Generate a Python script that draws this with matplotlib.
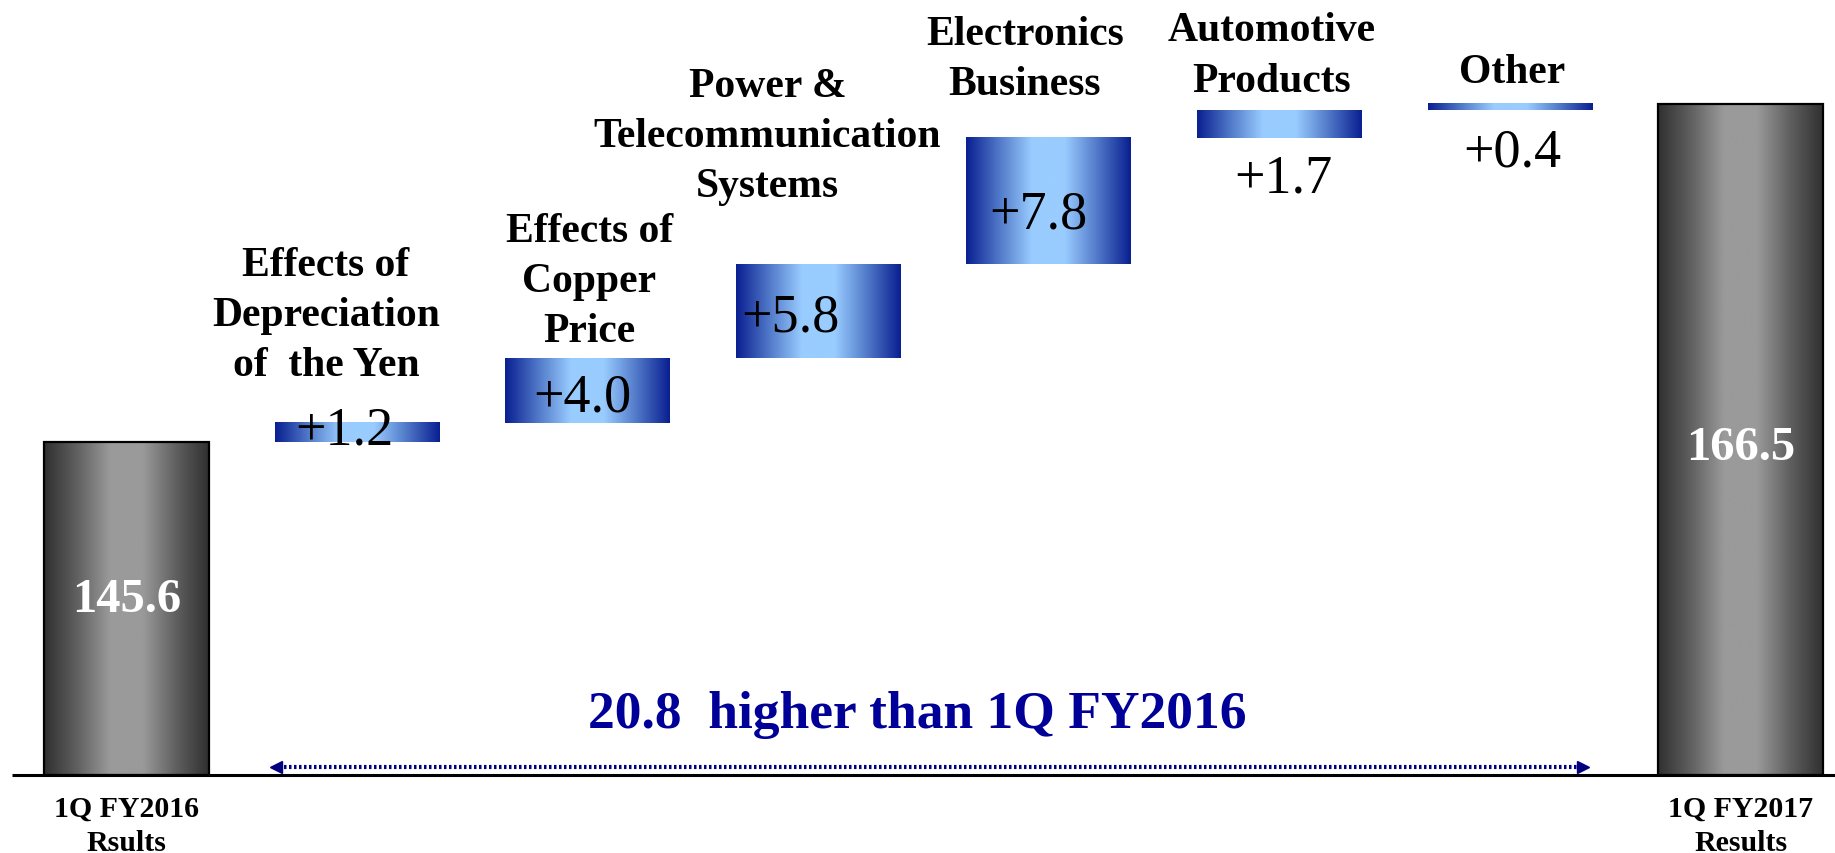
import numpy as np
from matplotlib import pyplot as plt
from matplotlib.colors import LinearSegmentedColormap

plt.rcParams['font.family'] = ['Liberation Serif', 'DejaVu Serif']

# data
start_label = '1Q FY2016\nRsults'
end_label = '1Q FY2017\nResults'
start_value = 145.6
end_value = 166.5
steps = ['Effects of\nDepreciation\nof  the Yen', 'Effects of\nCopper\nPrice',
         'Power &\nTelecommunication\nSystems', 'Electronics\nBusiness',
         'Automotive\nProducts', 'Other']
deltas = [1.2, 4.0, 5.8, 7.8, 1.7, 0.4]
diff_text = '20.8  higher than 1Q FY2016'

# layout (data coords)
step_label_pos = [(0.865, 153.45), (2.006, 155.55), (2.78, 164.52),
                  (3.896, 169.28), (4.967, 169.5), (6.01, 168.47)]
value_label_pos = [(0.943, 146.3), (1.975, 148.38), (2.877, 153.32),
                   (3.953, 159.69), (5.015, 161.92), (6.008, 163.53)]
width = 0.715
base = 125.0

blue = LinearSegmentedColormap.from_list('b', ['#0a1f91', '#5078c8', '#99ccff', '#99ccff', '#5078c8', '#0a1f91'])
gray = LinearSegmentedColormap.from_list('g', ['#303030', '#606060', '#9a9a9a', '#9a9a9a', '#606060', '#303030'])
grad = np.linspace(0, 1, 256).reshape(1, -1)

fig = plt.figure(figsize=(18.35, 8.54), dpi=100)
ax = fig.add_axes([0, 0, 1, 1])
ax.set_xlim(-0.549, 7.409)
ax.set_ylim(120.18, 172.99)
ax.axis('off')


def grad_bar(x, y0, y1, cmap, edge=None):
    ax.imshow(grad, cmap=cmap, extent=(x - width / 2, x + width / 2, y0, y1),
              aspect='auto', interpolation='bicubic', zorder=2)
    if edge:
        ax.add_patch(plt.Rectangle((x - width / 2, y0), width, y1 - y0, fill=False,
                                   edgecolor=edge, linewidth=1.6, zorder=3))


# totals
grad_bar(0, base, start_value, gray, 'black')
grad_bar(7, base, end_value, gray, 'black')
ax.text(0, 135.9, f'{start_value:.1f}', color='white', fontsize=35, fontweight='bold',
        ha='center', va='center', zorder=4)
ax.text(7, 145.28, f'{end_value:.1f}', color='white', fontsize=35, fontweight='bold',
        ha='center', va='center', zorder=4)

# steps
level = start_value
for i, d in enumerate(deltas):
    grad_bar(i + 1, level, level + d, blue)
    level += d
    ax.text(*step_label_pos[i], steps[i], fontsize=30, fontweight='bold',
            ha='center', va='center', linespacing=1.42)
    ax.text(*value_label_pos[i], f'+{d:.1f}', fontsize=39, ha='center', va='center', zorder=4)

# baseline
ax.plot([-0.497, 7.409], [base, base], color='black', lw=2.2, zorder=5, solid_capstyle='butt')

# bottom labels
ax.text(0, 121.9, start_label, fontsize=21.5, fontweight='bold', ha='center', va='center', linespacing=1.35)
ax.text(7, 121.9, end_label, fontsize=21.5, fontweight='bold', ha='center', va='center', linespacing=1.35)

# difference arrow
ax.plot([0.66, 6.30], [125.5, 125.5], color='#000080', lw=3, linestyle=(0, (0.6, 0.6)), zorder=4)
ax.plot([0.648], [125.5], marker='<', color='#000080', markersize=9, zorder=4)
ax.plot([6.316], [125.5], marker='>', color='#000080', markersize=9, zorder=4)
ax.text(3.43, 128.8, diff_text, color='#000099', fontsize=38.5, fontweight='bold',
        ha='center', va='center')

fig.savefig('out.png', dpi=100)
